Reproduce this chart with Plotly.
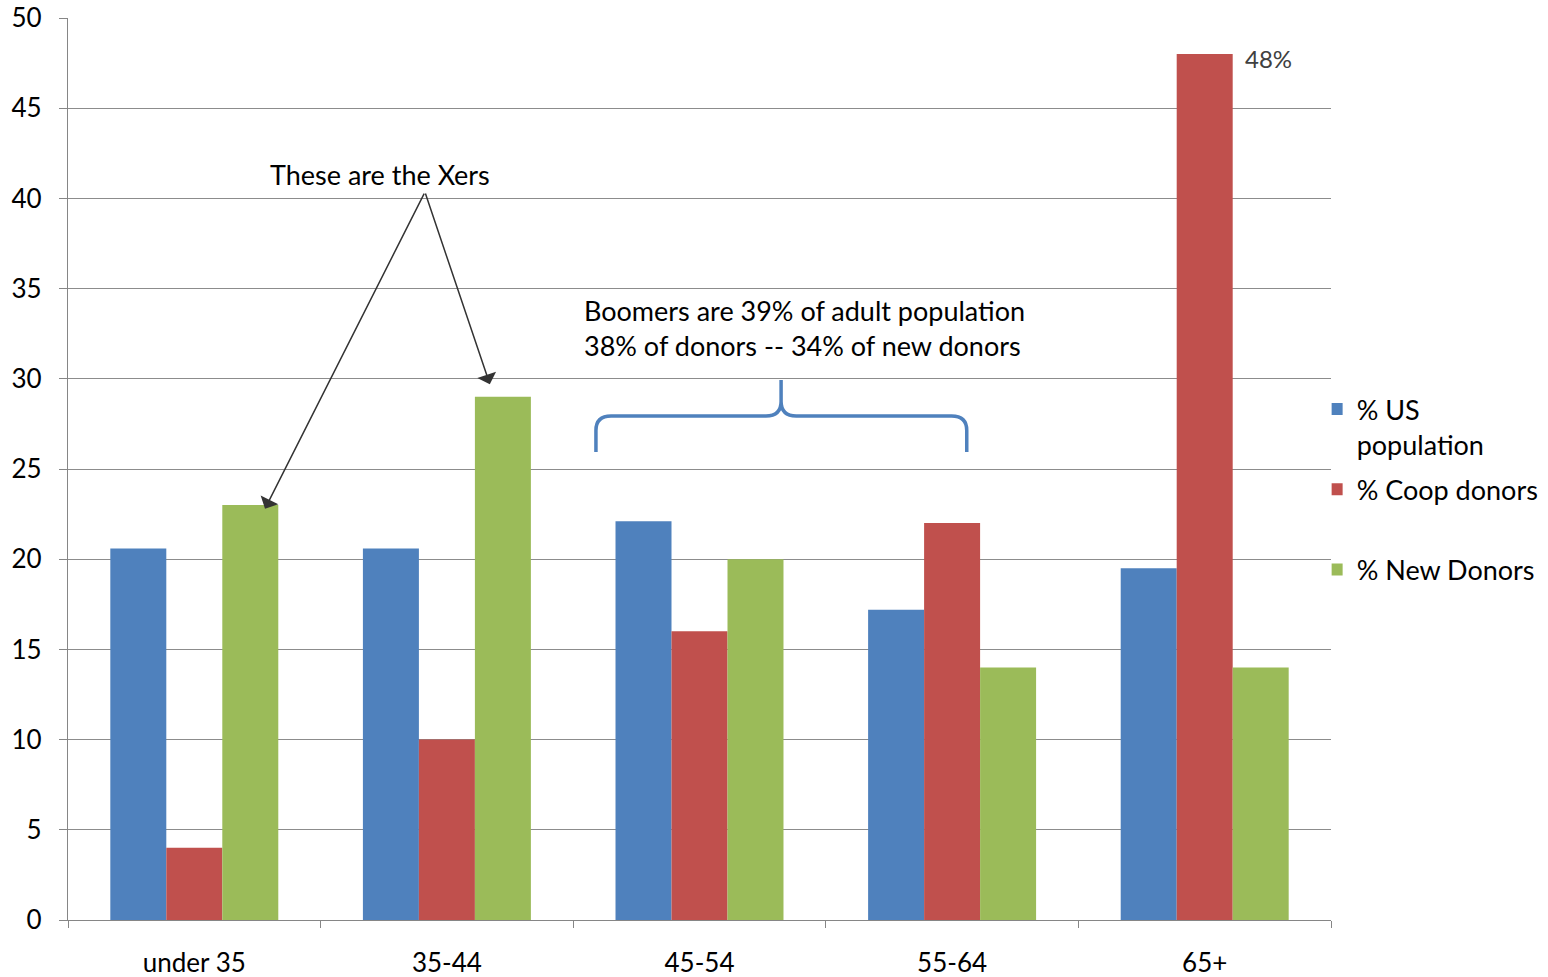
import plotly.graph_objects as go

categories = ["under 35", "35-44", "45-54", "55-64", "65+"]
us_population = [20.6, 20.6, 22.1, 17.2, 19.5]
coop_donors = [4, 10, 16, 22, 48]
new_donors = [23, 29, 20, 14, 14]
series_names = ["% US<br>population", "% Coop donors<br>\u00a0", "% New Donors"]
colors = ["#4F81BD", "#C0504D", "#9BBB59"]
y_ticks = [0, 5, 10, 15, 20, 25, 30, 35, 40, 45, 50]

FONT = "Lato"
TXT = "#000000"

fig = go.Figure()
for name, vals, col in zip(series_names, [us_population, coop_donors, new_donors], colors):
    fig.add_trace(go.Bar(x=categories, y=vals, name=name, marker=dict(color=col, line=dict(width=0)),
                         legendgroup=name))

fig.update_layout(
    width=1548, height=977,
    margin=dict(l=68, r=217, t=18, b=57, autoexpand=False),
    paper_bgcolor="white", plot_bgcolor="white",
    barmode="group", bargap=0.335, bargroupgap=0,
    font=dict(family=FONT, size=26, color=TXT),
    showlegend=True,
    legend=dict(x=1.0005, xanchor="left", y=(920 - 385) / 902, yanchor="top",
                font=dict(family=FONT, size=27, color=TXT), valign="top",
                tracegroupgap=7, itemwidth=30, bgcolor="rgba(0,0,0,0)",
                traceorder="grouped", indentation=-15),
)
fig.update_xaxes(
    automargin=False,
    showline=True, linecolor="#868686", linewidth=1.3,
    ticks="outside", tickson="boundaries", ticklen=7, tickcolor="#868686", tickwidth=1.3,
    tickfont=dict(family=FONT, size=26, color=TXT), ticklabelstandoff=20,
    showgrid=False,
)
fig.update_yaxes(
    automargin=False,
    range=[0, 50], tickvals=y_ticks,
    showline=True, linecolor="#868686", linewidth=1.3,
    ticks="outside", ticklen=8, tickcolor="#868686", tickwidth=1.3,
    showgrid=True, gridcolor="#8C8C8C", gridwidth=1.3,
    tickfont=dict(family=FONT, size=26, color=TXT), ticklabelstandoff=12,
    zeroline=False,
)

# value label for the tallest bar
fig.add_annotation(x=4.15, y=coop_donors[4] - 0.25, xref="x", yref="y", text="48%", showarrow=False,
                   xanchor="left", yanchor="middle", font=dict(family=FONT, size=24, color="#404040"))

# Xers callout
fig.add_annotation(x=0.735, y=41.3, xref="x", yref="y", text="These are the Xers", showarrow=False,
                   xanchor="center", yanchor="middle", font=dict(family=FONT, size=27, color=TXT))
for tip in [(0.28, 22.8), (1.17, 29.7)]:
    fig.add_annotation(x=tip[0], y=tip[1], xref="x", yref="y", ax=0.913, ay=40.35, axref="x", ayref="y",
                       text="", showarrow=True, arrowhead=1, arrowsize=2.2, arrowwidth=1.5,
                       arrowcolor="#333333")

# Boomers callout
fig.add_annotation(x=1.535, y=32.8, xref="x", yref="y",
                   text="Boomers are 39% of adult population<br>38% of donors -- 34% of new donors",
                   showarrow=False, xanchor="left", yanchor="middle", align="left",
                   font=dict(family=FONT, size=27, color=TXT))

# curly bracket (data units converted to paper fractions)
def px(i):
    return (i + 0.5) / len(categories)

def py(v):
    return v / 50

xl, xc, xr = 1.59, 2.323, 3.058
yb, yh, yt = 25.94, 27.94, 29.93
r = 0.06
path = (
    f"M {px(xl)},{py(yb)} L {px(xl)},{py(yh - 0.8)} "
    f"Q {px(xl)},{py(yh)} {px(xl + r)},{py(yh)} "
    f"L {px(xc - r)},{py(yh)} Q {px(xc)},{py(yh)} {px(xc)},{py(yh + 0.8)} "
    f"L {px(xc)},{py(yt)} "
    f"M {px(xc)},{py(yh + 0.8)} Q {px(xc)},{py(yh)} {px(xc + r)},{py(yh)} "
    f"L {px(xr - r)},{py(yh)} Q {px(xr)},{py(yh)} {px(xr)},{py(yh - 0.8)} "
    f"L {px(xr)},{py(yb)}"
)
fig.add_shape(type="path", path=path, xref="paper", yref="paper",
              line=dict(color="#4F81BD", width=3.5))

fig.write_html("out.html")
